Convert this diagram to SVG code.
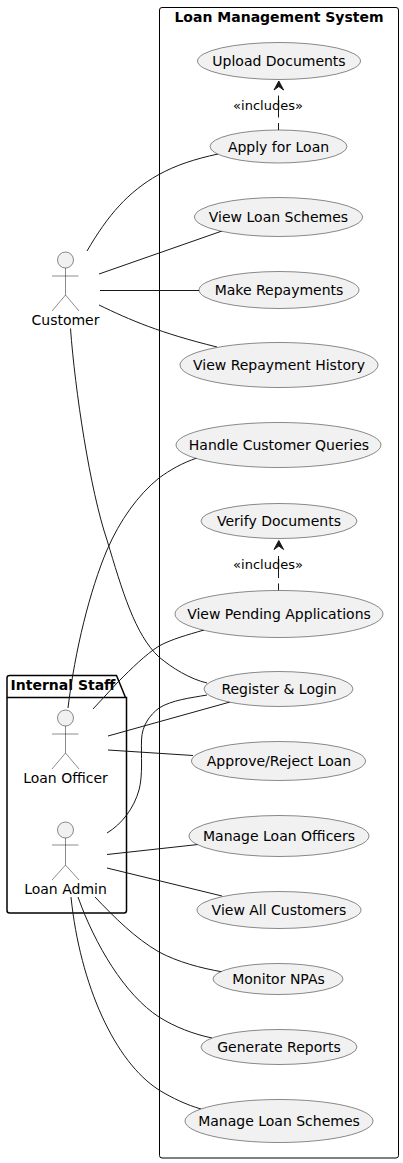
<svg xmlns="http://www.w3.org/2000/svg" width="403" height="1163" viewBox="0 0 403 1163">
<style>
text{font-family:"DejaVu Sans",sans-serif;font-size:14px;fill:#000;text-anchor:middle}
.b{font-weight:bold}
.l{font-size:13px}
.u{fill:#f1f1f1;stroke:#181818;stroke-width:.5}
.a{fill:none;stroke:#181818;stroke-width:.5}
.h{fill:#f1f1f1;stroke:#181818;stroke-width:.5}
.c{fill:none;stroke:#181818;stroke-width:1}
.d{fill:none;stroke:#181818;stroke-width:1;stroke-dasharray:7 5.500 22 5}
.f{fill:none;stroke:#000;stroke-width:1}
.t{fill:#181818;stroke:#181818;stroke-width:1}
</style>
<rect width="403" height="1163" fill="#fff"/>
<g id="system">
<rect class="f" x="159.500" y="7.500" width="239" height="1150.500" rx="2.500"/>
<text class="b" x="279" y="22">Loan Management System</text>
</g>
<g id="internal-staff">
<path d="M7 697.500V678Q7 675.500 9.500 675.500H116.500L125.500 697.500M7 697.500H126.500V910.500Q126.500 913 124 913H9.500Q7 913 7 910.500Z" fill="none" stroke="#000" stroke-width="1.500"/>
<text class="b" x="63" y="690">Internal Staff</text>
</g>
<g id="connectors">
<path class="c" d="M87 251C108 215 128 192 158 175C176 165 195 159 218 154"/>
<path class="c" d="M99 274L222 231"/>
<path class="c" d="M100 290.500H199"/>
<path class="c" d="M99 305C130 320 160 333 217 347"/>
<path class="c" d="M70.500 328.500C75 390 90 490 107 540C122 590 135 635 159 657C172 668 190 679 207 683"/>
<path class="c" d="M68 708C75 650 90 590 107 550C120 520 138 495 159 478C170 470 182 463 197 458"/>
<path class="c" d="M93 709L118 682C132 668 145 655 159 646C172 639 187 635 204 630"/>
<path class="c" d="M108 736L230 702"/>
<path class="c" d="M108 750L193 755.500"/>
<path class="c" d="M107 833C122 824 134 808 139 790C143 775 141 755 141.500 740C142 725 150 715 159 708C172 700 190 698 207 695"/>
<path class="c" d="M107 854.500L198 844.500"/>
<path class="c" d="M107 868L222 896"/>
<path class="c" d="M95 897C115 918 135 938 159 952C178 962 200 968 223 972"/>
<path class="c" d="M78 897C95 945 125 995 159 1017C175 1027 193 1034 212 1038"/>
<path class="c" d="M71 897C80 985 115 1062 159 1090C172 1098 187 1105 201 1109"/>
<path class="d" d="M278.500 130V91"/>
<path class="t" d="M278.800 81L274 90L278.800 86.500L283.600 90Z"/>
<text class="l" x="268" y="110">«includes»</text>
<path class="d" d="M278.500 590.500V551"/>
<path class="t" d="M278.800 540.500L274 549.500L278.800 546L283.600 549.500Z"/>
<text class="l" x="268" y="569">«includes»</text>
</g>
<g id="customer"><circle class="h" cx="65.500" cy="260" r="8"/><path class="a" d="M65.500 268V295M52 276H78.500M52 311L65.500 295L79 311"/><text x="65.500" y="325">Customer</text></g>
<g id="loan-officer"><circle class="h" cx="65.500" cy="718" r="8"/><path class="a" d="M65.500 726V753M52 734H78.500M52 769L65.500 753L79 769"/><text x="65.500" y="783">Loan Officer</text></g>
<g id="loan-admin"><circle class="h" cx="65.500" cy="830" r="8"/><path class="a" d="M65.500 838V865M52 845H78.500M52 880L65.500 865L79 880"/><text x="65.500" y="894">Loan Admin</text></g>
<g id="upload-documents"><ellipse class="u" cx="279" cy="61" rx="81.500" ry="18.500"/><text x="279" y="66">Upload Documents</text></g>
<g id="apply-for-loan"><ellipse class="u" cx="278.500" cy="146.500" rx="68.500" ry="16.500"/><text x="278.500" y="152">Apply for Loan</text></g>
<g id="view-loan-schemes"><ellipse class="u" cx="278.500" cy="217" rx="84" ry="19.500"/><text x="278.500" y="222">View Loan Schemes</text></g>
<g id="make-repayments"><ellipse class="u" cx="279" cy="290" rx="80" ry="18.500"/><text x="279" y="295">Make Repayments</text></g>
<g id="view-repayment-history"><ellipse class="u" cx="279" cy="365" rx="99" ry="22.500"/><text x="279" y="370">View Repayment History</text></g>
<g id="handle-customer-queries"><ellipse class="u" cx="278.500" cy="445" rx="102.500" ry="22.500"/><text x="279" y="450">Handle Customer Queries</text></g>
<g id="verify-documents"><ellipse class="u" cx="279" cy="521" rx="78" ry="17.500"/><text x="279" y="526">Verify Documents</text></g>
<g id="view-pending-applications"><ellipse class="u" cx="279" cy="614" rx="104" ry="23.500"/><text x="279" y="619">View Pending Applications</text></g>
<g id="register-login"><ellipse class="u" cx="278.500" cy="689" rx="74.500" ry="17.500"/><text x="279" y="694">Register &amp; Login</text></g>
<g id="approve-reject-loan"><ellipse class="u" cx="278.500" cy="761" rx="87" ry="19.500"/><text x="279" y="766">Approve/Reject Loan</text></g>
<g id="manage-loan-officers"><ellipse class="u" cx="279" cy="836" rx="90" ry="20.500"/><text x="279" y="841">Manage Loan Officers</text></g>
<g id="view-all-customers"><ellipse class="u" cx="279" cy="910" rx="82" ry="18.500"/><text x="279" y="915">View All Customers</text></g>
<g id="monitor-npas"><ellipse class="u" cx="278" cy="979" rx="65" ry="15.500"/><text x="278.500" y="984">Monitor NPAs</text></g>
<g id="generate-reports"><ellipse class="u" cx="279" cy="1047" rx="78" ry="17.500"/><text x="279" y="1052">Generate Reports</text></g>
<g id="manage-loan-schemes"><ellipse class="u" cx="279" cy="1121" rx="94" ry="21.500"/><text x="279" y="1126">Manage Loan Schemes</text></g>
</svg>
